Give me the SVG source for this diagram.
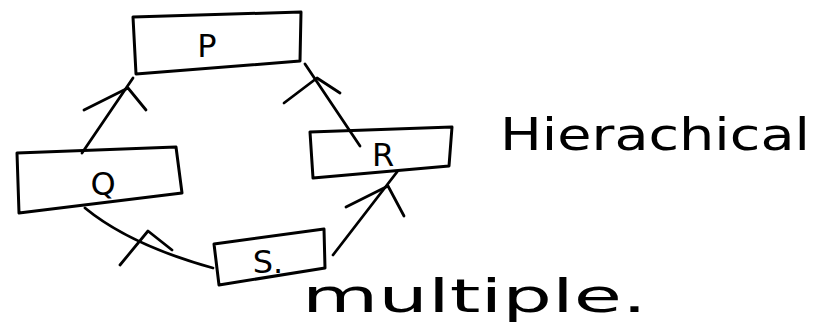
<svg xmlns="http://www.w3.org/2000/svg" width="819" height="328" viewBox="0 0 819 328">
<style>
.box{fill:none;stroke:#000;stroke-width:3;stroke-linejoin:round}
.lbl{font-family:"DejaVu Sans","Liberation Sans",sans-serif;fill:#000;text-anchor:middle}
.c{fill:none;stroke:#000;stroke-width:2.8;stroke-linecap:round;stroke-linejoin:round}
.note{font-family:"DejaVu Sans","Liberation Sans",sans-serif;fill:#000;font-weight:normal}
</style>
<rect width="819" height="328" fill="#fff"/>
<g id="P">
<path class="box" d="M133,17 L301,12 L300,61 L136,74 Z"/>
<text class="lbl" x="207" y="57" font-size="32">P</text>
</g>
<g id="Q">
<path class="box" d="M17,153 L176,147 L182,193 L19,213 Z"/>
<text class="lbl" x="103" y="195" font-size="32">Q</text>
</g>
<g id="R">
<path class="box" d="M310,132 L452,127 L449,166 L313,178 Z"/>
<text class="lbl" x="383" y="166" font-size="32">R</text>
</g>
<g id="S">
<path class="box" d="M214,244 L324,229 L325,268 L219,285 Z"/>
<text class="lbl" x="268" y="273" font-size="32">S.</text>
</g>
<g id="connectors">
<path class="c" d="M82,153 L133,78"/>
<path class="c" d="M84,110 L128,88 L146,110"/>
<path class="c" d="M360,146 L305,64"/>
<path class="c" d="M284,103 L317,78 L340,93"/>
<path class="c" d="M85,208 Q130,245 213,268"/>
<path class="c" d="M120,265 L148,231 L172,250"/>
<path class="c" d="M333,255 L397,172"/>
<path class="c" d="M346,207 L388,186 L404,216"/>
</g>
<text class="note" x="500" y="150" font-size="44" textLength="310" lengthAdjust="spacingAndGlyphs">Hierachical</text>
<text class="note" x="302" y="312" font-size="46" textLength="345" lengthAdjust="spacingAndGlyphs">multiple.</text>
</svg>
